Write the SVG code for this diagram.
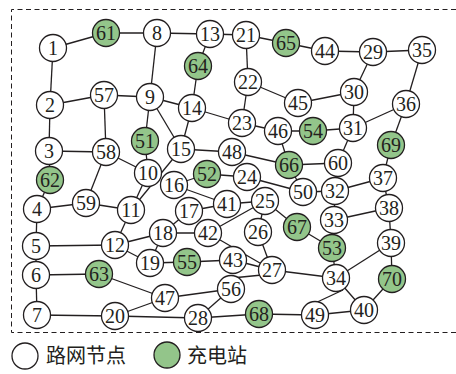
<svg xmlns="http://www.w3.org/2000/svg" width="456" height="374" viewBox="0 0 456 374">
<style>
.e line,.e path{stroke:#231f20;stroke-width:1.3;fill:none}
circle{stroke:#231f20;stroke-width:1.3;fill:#fff}
.g circle{fill:#93c58a}
text{font-family:"Liberation Serif","Times New Roman",serif;font-size:20px;fill:#231f20;text-anchor:middle}
.lg{font-family:"Noto Sans CJK SC",sans-serif;font-size:20px;text-anchor:start}
</style>
<rect width="456" height="374" fill="#fff"/>
<path d="M456,9.5 H11.5 V332.5 H456" fill="none" stroke="#231f20" stroke-width="1" stroke-dasharray="5,3.5"/>
<g id="connectors" class="e">
<line x1="53" y1="48" x2="106" y2="33"/>
<line x1="106" y1="33" x2="157" y2="33"/>
<line x1="53" y1="48" x2="50" y2="105"/>
<line x1="157" y1="33" x2="210" y2="34"/>
<line x1="157" y1="33" x2="150" y2="97"/>
<line x1="210" y1="34" x2="246" y2="35"/>
<line x1="210" y1="34" x2="198" y2="66"/>
<line x1="198" y1="66" x2="192" y2="108"/>
<line x1="246" y1="35" x2="286" y2="43"/>
<line x1="246" y1="35" x2="248" y2="82"/>
<line x1="286" y1="43" x2="325" y2="51"/>
<line x1="325" y1="51" x2="373" y2="52"/>
<line x1="373" y1="52" x2="422" y2="50"/>
<line x1="373" y1="52" x2="354" y2="92"/>
<line x1="422" y1="50" x2="406" y2="104"/>
<line x1="354" y1="92" x2="298" y2="103"/>
<line x1="354" y1="92" x2="353" y2="128"/>
<line x1="248" y1="82" x2="298" y2="103"/>
<line x1="248" y1="82" x2="242" y2="123"/>
<line x1="406" y1="104" x2="353" y2="128"/>
<line x1="406" y1="104" x2="391" y2="145"/>
<line x1="50" y1="105" x2="104" y2="95"/>
<line x1="50" y1="105" x2="49" y2="151"/>
<line x1="104" y1="95" x2="150" y2="97"/>
<line x1="104" y1="95" x2="106" y2="152"/>
<line x1="150" y1="97" x2="192" y2="108"/>
<line x1="150" y1="97" x2="145" y2="141"/>
<line x1="150" y1="97" x2="181" y2="149"/>
<line x1="192" y1="108" x2="181" y2="149"/>
<line x1="192" y1="108" x2="242" y2="123"/>
<line x1="49" y1="151" x2="106" y2="152"/>
<line x1="49" y1="151" x2="50" y2="180"/>
<line x1="50" y1="180" x2="37" y2="209"/>
<line x1="106" y1="152" x2="86" y2="203"/>
<line x1="106" y1="152" x2="148" y2="173"/>
<line x1="145" y1="141" x2="148" y2="173"/>
<line x1="181" y1="149" x2="232" y2="152"/>
<line x1="181" y1="149" x2="131" y2="210"/>
<line x1="148" y1="173" x2="131" y2="210"/>
<line x1="174" y1="185" x2="207" y2="174"/>
<line x1="174" y1="185" x2="227" y2="204"/>
<line x1="232" y1="152" x2="289" y2="165"/>
<line x1="207" y1="174" x2="247" y2="177"/>
<line x1="247" y1="177" x2="303" y2="192"/>
<line x1="242" y1="123" x2="278" y2="131"/>
<line x1="278" y1="131" x2="313" y2="131"/>
<line x1="278" y1="131" x2="289" y2="165"/>
<line x1="313" y1="131" x2="353" y2="128"/>
<line x1="289" y1="165" x2="338" y2="163"/>
<line x1="289" y1="165" x2="303" y2="192"/>
<line x1="338" y1="163" x2="353" y2="128"/>
<line x1="303" y1="192" x2="335" y2="191"/>
<line x1="335" y1="191" x2="383" y2="178"/>
<line x1="335" y1="191" x2="334" y2="220"/>
<line x1="334" y1="220" x2="389" y2="208"/>
<line x1="383" y1="178" x2="391" y2="145"/>
<line x1="383" y1="178" x2="389" y2="208"/>
<line x1="389" y1="208" x2="391" y2="243"/>
<line x1="391" y1="243" x2="392" y2="279"/>
<line x1="391" y1="243" x2="336" y2="278"/>
<line x1="392" y1="279" x2="364" y2="310"/>
<line x1="336" y1="278" x2="364" y2="310"/>
<line x1="313" y1="304" x2="343" y2="290"/>
<line x1="336" y1="278" x2="272" y2="270"/>
<line x1="332" y1="248" x2="336" y2="278"/>
<line x1="297" y1="227" x2="332" y2="248"/>
<line x1="265" y1="201" x2="297" y2="227"/>
<line x1="227" y1="204" x2="265" y2="201"/>
<line x1="189" y1="211" x2="227" y2="204"/>
<line x1="189" y1="211" x2="163" y2="233"/>
<line x1="163" y1="233" x2="115" y2="245"/>
<line x1="163" y1="233" x2="208" y2="233"/>
<line x1="163" y1="233" x2="150" y2="263"/>
<line x1="208" y1="233" x2="265" y2="201"/>
<line x1="208" y1="233" x2="272" y2="270"/>
<line x1="233" y1="260" x2="272" y2="270"/>
<line x1="150" y1="263" x2="115" y2="245"/>
<line x1="150" y1="263" x2="187" y2="262"/>
<line x1="187" y1="262" x2="233" y2="260"/>
<line x1="258" y1="232" x2="272" y2="270"/>
<line x1="265" y1="201" x2="258" y2="232"/>
<line x1="222" y1="279" x2="262" y2="275"/>
<line x1="99" y1="274" x2="36" y2="275"/>
<line x1="99" y1="274" x2="165" y2="298"/>
<line x1="36" y1="246" x2="115" y2="245"/>
<line x1="36" y1="246" x2="37" y2="209"/>
<line x1="36" y1="246" x2="36" y2="275"/>
<line x1="36" y1="275" x2="37" y2="315"/>
<line x1="37" y1="315" x2="115" y2="316"/>
<line x1="115" y1="316" x2="165" y2="298"/>
<line x1="115" y1="316" x2="198" y2="318"/>
<line x1="198" y1="318" x2="231" y2="289"/>
<line x1="198" y1="318" x2="259" y2="314"/>
<line x1="259" y1="314" x2="315" y2="315"/>
<line x1="315" y1="315" x2="364" y2="310"/>
<line x1="37" y1="209" x2="86" y2="203"/>
<line x1="86" y1="203" x2="131" y2="210"/>
<line x1="131" y1="210" x2="115" y2="245"/>
<line x1="165" y1="298" x2="231" y2="289"/>
</g>
<g id="n1"><circle cx="53" cy="48" r="13.5"/><text x="53" y="55">1</text></g>
<g id="n61" class="g"><circle cx="106" cy="33" r="13.5"/><text x="106" y="40">61</text></g>
<g id="n8"><circle cx="157" cy="33" r="13.5"/><text x="157" y="40">8</text></g>
<g id="n13"><circle cx="210" cy="34" r="13.5"/><text x="210" y="41">13</text></g>
<g id="n21"><circle cx="246" cy="35" r="13.5"/><text x="246" y="42">21</text></g>
<g id="n65" class="g"><circle cx="286" cy="43" r="13.5"/><text x="286" y="50">65</text></g>
<g id="n44"><circle cx="325" cy="51" r="13.5"/><text x="325" y="58">44</text></g>
<g id="n29"><circle cx="373" cy="52" r="13.5"/><text x="373" y="59">29</text></g>
<g id="n35"><circle cx="422" cy="50" r="13.5"/><text x="422" y="57">35</text></g>
<g id="n2"><circle cx="50" cy="105" r="13.5"/><text x="50" y="112">2</text></g>
<g id="n57"><circle cx="104" cy="95" r="13.5"/><text x="104" y="102">57</text></g>
<g id="n9"><circle cx="150" cy="97" r="13.5"/><text x="150" y="104">9</text></g>
<g id="n64" class="g"><circle cx="198" cy="66" r="13.5"/><text x="198" y="73">64</text></g>
<g id="n22"><circle cx="248" cy="82" r="13.5"/><text x="248" y="89">22</text></g>
<g id="n45"><circle cx="298" cy="103" r="13.5"/><text x="298" y="110">45</text></g>
<g id="n30"><circle cx="354" cy="92" r="13.5"/><text x="354" y="99">30</text></g>
<g id="n36"><circle cx="406" cy="104" r="13.5"/><text x="406" y="111">36</text></g>
<g id="n14"><circle cx="192" cy="108" r="13.5"/><text x="192" y="115">14</text></g>
<g id="n23"><circle cx="242" cy="123" r="13.5"/><text x="242" y="130">23</text></g>
<g id="n46"><circle cx="278" cy="131" r="13.5"/><text x="278" y="138">46</text></g>
<g id="n54" class="g"><circle cx="313" cy="131" r="13.5"/><text x="313" y="138">54</text></g>
<g id="n31"><circle cx="353" cy="128" r="13.5"/><text x="353" y="135">31</text></g>
<g id="n69" class="g"><circle cx="391" cy="145" r="13.5"/><text x="391" y="152">69</text></g>
<g id="n51" class="g"><circle cx="145" cy="141" r="13.5"/><text x="145" y="148">51</text></g>
<g id="n3"><circle cx="49" cy="151" r="13.5"/><text x="49" y="158">3</text></g>
<g id="n58"><circle cx="106" cy="152" r="13.5"/><text x="106" y="159">58</text></g>
<g id="n15"><circle cx="181" cy="149" r="13.5"/><text x="181" y="156">15</text></g>
<g id="n48"><circle cx="232" cy="152" r="13.5"/><text x="232" y="159">48</text></g>
<g id="n66" class="g"><circle cx="289" cy="165" r="13.5"/><text x="289" y="172">66</text></g>
<g id="n60"><circle cx="338" cy="163" r="13.5"/><text x="338" y="170">60</text></g>
<g id="n62" class="g"><circle cx="50" cy="180" r="13.5"/><text x="50" y="187">62</text></g>
<g id="n10"><circle cx="148" cy="173" r="13.5"/><text x="148" y="180">10</text></g>
<g id="n16"><circle cx="174" cy="185" r="13.5"/><text x="174" y="192">16</text></g>
<g id="n52" class="g"><circle cx="207" cy="174" r="13.5"/><text x="207" y="181">52</text></g>
<g id="n24"><circle cx="247" cy="177" r="13.5"/><text x="247" y="184">24</text></g>
<g id="n37"><circle cx="383" cy="178" r="13.5"/><text x="383" y="185">37</text></g>
<g id="n50"><circle cx="303" cy="192" r="13.5"/><text x="303" y="199">50</text></g>
<g id="n32"><circle cx="335" cy="191" r="13.5"/><text x="335" y="198">32</text></g>
<g id="n4"><circle cx="37" cy="209" r="13.5"/><text x="37" y="216">4</text></g>
<g id="n59"><circle cx="86" cy="203" r="13.5"/><text x="86" y="210">59</text></g>
<g id="n11"><circle cx="131" cy="210" r="13.5"/><text x="131" y="217">11</text></g>
<g id="n17"><circle cx="189" cy="211" r="13.5"/><text x="189" y="218">17</text></g>
<g id="n41"><circle cx="227" cy="204" r="13.5"/><text x="227" y="211">41</text></g>
<g id="n25"><circle cx="265" cy="201" r="13.5"/><text x="265" y="208">25</text></g>
<g id="n38"><circle cx="389" cy="208" r="13.5"/><text x="389" y="215">38</text></g>
<g id="n33"><circle cx="334" cy="220" r="13.5"/><text x="334" y="227">33</text></g>
<g id="n18"><circle cx="163" cy="233" r="13.5"/><text x="163" y="240">18</text></g>
<g id="n42"><circle cx="208" cy="233" r="13.5"/><text x="208" y="240">42</text></g>
<g id="n26"><circle cx="258" cy="232" r="13.5"/><text x="258" y="239">26</text></g>
<g id="n67" class="g"><circle cx="297" cy="227" r="13.5"/><text x="297" y="234">67</text></g>
<g id="n5"><circle cx="36" cy="246" r="13.5"/><text x="36" y="253">5</text></g>
<g id="n12"><circle cx="115" cy="245" r="13.5"/><text x="115" y="252">12</text></g>
<g id="n39"><circle cx="391" cy="243" r="13.5"/><text x="391" y="250">39</text></g>
<g id="n53" class="g"><circle cx="332" cy="248" r="13.5"/><text x="332" y="255">53</text></g>
<g id="n19"><circle cx="150" cy="263" r="13.5"/><text x="150" y="270">19</text></g>
<g id="n55" class="g"><circle cx="187" cy="262" r="13.5"/><text x="187" y="269">55</text></g>
<g id="n43"><circle cx="233" cy="260" r="13.5"/><text x="233" y="267">43</text></g>
<g id="n27"><circle cx="272" cy="270" r="13.5"/><text x="272" y="277">27</text></g>
<g id="n34"><circle cx="336" cy="278" r="13.5"/><text x="336" y="285">34</text></g>
<g id="n70" class="g"><circle cx="392" cy="279" r="13.5"/><text x="392" y="286">70</text></g>
<g id="n6"><circle cx="36" cy="275" r="13.5"/><text x="36" y="282">6</text></g>
<g id="n63" class="g"><circle cx="99" cy="274" r="13.5"/><text x="99" y="281">63</text></g>
<g id="n47"><circle cx="165" cy="298" r="13.5"/><text x="165" y="305">47</text></g>
<g id="n56"><circle cx="231" cy="289" r="13.5"/><text x="231" y="296">56</text></g>
<g id="n7"><circle cx="37" cy="315" r="13.5"/><text x="37" y="322">7</text></g>
<g id="n20"><circle cx="115" cy="316" r="13.5"/><text x="115" y="323">20</text></g>
<g id="n28"><circle cx="198" cy="318" r="13.5"/><text x="198" y="325">28</text></g>
<g id="n68" class="g"><circle cx="259" cy="314" r="13.5"/><text x="259" y="321">68</text></g>
<g id="n49"><circle cx="315" cy="315" r="13.5"/><text x="315" y="322">49</text></g>
<g id="n40"><circle cx="364" cy="310" r="13.5"/><text x="364" y="317">40</text></g>
<g id="legend">
<circle cx="25" cy="356" r="13"/>
<text class="lg" x="46" y="363">路网节点</text>
<g class="g"><circle cx="167" cy="355" r="13" stroke="none"/></g>
<text class="lg" x="187" y="363">充电站</text>
</g>
</svg>
